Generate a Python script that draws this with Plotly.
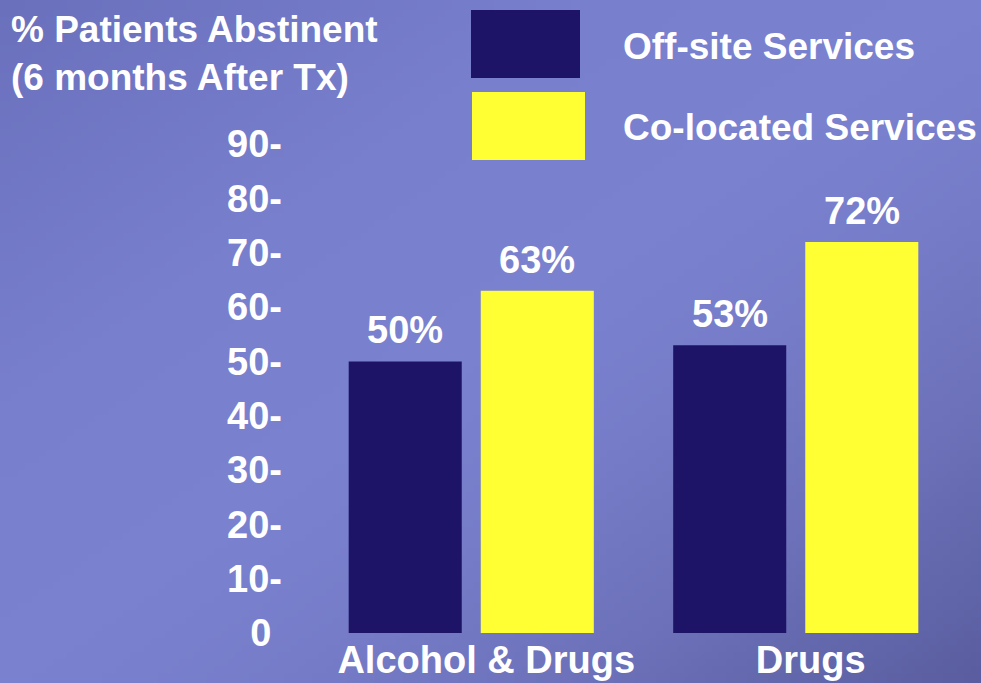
import zlib, struct, base64
import plotly.graph_objects as go

# ---------------- data ----------------
categories = ["Alcohol & Drugs", "Drugs"]
series_names = ["Off-site Services", "Co-located Services"]
off_site = [50, 53]
co_located = [63, 72]
y_tick_vals = [0, 10, 20, 30, 40, 50, 60, 70, 80, 90]
y_tick_text = ["0\u00a0", "10-", "20-", "30-", "40-", "50-", "60-", "70-", "80-", "90-"]
title_lines = ["% Patients Abstinent", "(6 months After Tx)"]

# ---------------- style ----------------
W_FIG, H_FIG = 981, 683
L, R, T, B = 309, 23, 117, 50
PW = W_FIG - L - R
PH = H_FIG - T - B
DARK = "#1d1468"
YELLOW = "#ffff33"
FONT = "Liberation Sans, Arial, sans-serif"
BAR_OFFSET_PX = 66  # half of a bar slot inside a group


def px_x(p):
    return (p - L) / PW


def px_y(p):
    return (H_FIG - B - p) / PH


# ---------------- background gradient image ----------------
stops = [(0.0, (106, 112, 188)), (0.3, (120, 127, 205)), (0.5, (122, 130, 208)),
         (0.64, (118, 124, 200)), (0.8, (108, 113, 185)), (1.0, (90, 94, 160))]


def grad(d):
    for (d0, c0), (d1, c1) in zip(stops[:-1], stops[1:]):
        if d <= d1:
            t = (d - d0) / (d1 - d0)
            return tuple(int(round(a + (b - a) * t)) for a, b in zip(c0, c1))
    return stops[-1][1]


GW, GH = 140, 98
raw = bytearray()
for j in range(GH):
    raw.append(0)
    for i in range(GW):
        d = (i / (GW - 1) + j / (GH - 1)) / 2
        raw.extend(grad(d))


def chunk(tag, data):
    return struct.pack(">I", len(data)) + tag + data + struct.pack(">I", zlib.crc32(tag + data) & 0xFFFFFFFF)


png = (b"\x89PNG\r\n\x1a\n" + chunk(b"IHDR", struct.pack(">IIBBBBB", GW, GH, 8, 2, 0, 0, 0))
       + chunk(b"IDAT", zlib.compress(bytes(raw), 9)) + chunk(b"IEND", b""))
bg_uri = "data:image/png;base64," + base64.b64encode(png).decode()

# ---------------- figure ----------------
fig = go.Figure()
series = [(series_names[0], off_site, DARK, -BAR_OFFSET_PX),
          (series_names[1], co_located, YELLOW, BAR_OFFSET_PX)]
for name, vals, col, shift in series:
    fig.add_trace(go.Bar(
        x=categories, y=vals, name=name, marker=dict(color=col, line=dict(width=0)),
    ))
    for cat, v in zip(categories, vals):
        fig.add_annotation(x=cat, y=v, xref="x", yref="y", text=f"{v}%",
                           showarrow=False, xanchor="center", yanchor="bottom",
                           xshift=shift, yshift=8,
                           font=dict(family=FONT, size=38, color="white", weight="bold"))

fig.update_layout(
    width=W_FIG, height=H_FIG,
    margin=dict(l=L, r=R, t=T, b=B, pad=0),
    paper_bgcolor="#7a82d0", plot_bgcolor="rgba(0,0,0,0)",
    barmode="group", bargap=0.186, bargroupgap=0.144,
    showlegend=False,
    font=dict(family=FONT, color="white"),
    xaxis=dict(showgrid=False, zeroline=False, showline=False, ticks="", automargin=False,
               tickfont=dict(family=FONT, size=38, color="white", weight="bold"),
               ticklabelshift=15, ticklabelstandoff=1),
    yaxis=dict(range=[0, 95], showgrid=False, zeroline=False, showline=False, ticks="",
               automargin=False,
               tickvals=y_tick_vals, ticktext=y_tick_text,
               tickfont=dict(family=FONT, size=38, color="white", weight="bold"),
               ticklabelstandoff=26),
    images=[dict(source=bg_uri, xref="paper", yref="paper",
                 x=px_x(0), y=px_y(0), sizex=W_FIG / PW, sizey=H_FIG / PH,
                 xanchor="left", yanchor="top", sizing="stretch", layer="below")],
)

# custom legend: large swatches + labels
swatches = [(DARK, 471, 10, 580, 78), (YELLOW, 472, 92, 585, 160)]
label_y = [47, 127]
for (col, x0, y0, x1, y1), name, ly in zip(swatches, series_names, label_y):
    fig.add_shape(type="rect", xref="paper", yref="paper",
                  x0=px_x(x0), x1=px_x(x1), y0=px_y(y1), y1=px_y(y0),
                  fillcolor=col, line=dict(width=0))
    fig.add_annotation(xref="paper", yref="paper", x=px_x(621), y=px_y(ly),
                       xanchor="left", yanchor="middle", showarrow=False,
                       text=name, font=dict(family=FONT, size=37, color="white", weight="bold"))

# y axis title (top-left)
fig.add_annotation(xref="paper", yref="paper", x=px_x(9), y=px_y(7),
                   xanchor="left", yanchor="top", align="left", showarrow=False,
                   text="<br>".join(title_lines),
                   font=dict(family=FONT, size=37, color="white", weight="bold"))

fig.write_html("out.html", config={"displayModeBar": False},
               post_script="document.body.style.margin='0';document.body.style.padding='0';"
                           "document.documentElement.style.overflow='hidden';")
